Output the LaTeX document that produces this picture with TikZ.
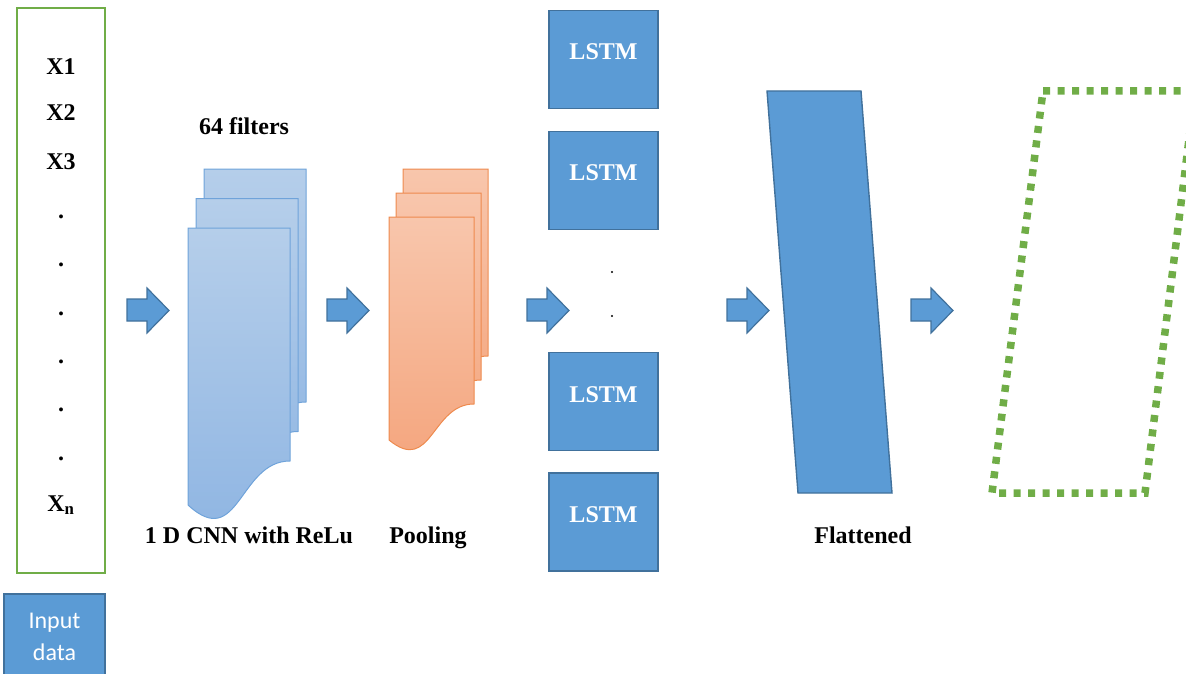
\documentclass[tikz,border=0pt]{standalone}
\usepackage{fontspec}
\setmainfont{Liberation Serif}
\newfontfamily\calfont{Carlito}
\definecolor{bfill}{HTML}{5B9BD5}
\definecolor{bline}{HTML}{41719C}
\definecolor{gline}{HTML}{70AD47}
\definecolor{cnntop}{HTML}{B5CEEA}
\definecolor{cnnbot}{HTML}{8DB4E2}
\definecolor{cnnline}{HTML}{6FA3DA}
\definecolor{pooltop}{HTML}{F8C6AC}
\definecolor{poolbot}{HTML}{F4A47C}
\definecolor{poolline}{HTML}{EE8A4E}
\begin{document}
\begin{tikzpicture}[x=1pt,y=-1pt,
  lbl/.style={font=\fontsize{24}{28}\selectfont\bfseries, inner sep=0pt, anchor=base},
  wlbl/.style={lbl, text=white},
  lstmbox/.style={draw=bline, fill=bfill, line width=1.6pt, minimum width=109pt, minimum height=98pt, inner sep=0pt},
  barrow/.style={draw=bline, fill=bfill, line width=1.2pt, line join=miter},
  cnnsheet/.style={draw=cnnline, line width=1pt, top color=cnntop, bottom color=cnnbot},
  poolsheet/.style={draw=poolline, line width=1pt, top color=pooltop, bottom color=poolbot},
  dotbox/.style={draw=gline, line width=7.5pt, dash pattern=on 7pt off 7.5pt, line cap=butt, line join=miter}
]
\useasboundingbox (0,0) rectangle (1186,674);

% input column
\node[draw=gline, line width=1.8pt, minimum width=88pt, minimum height=565pt, inner sep=0pt] (inbox) at (61,290.5) {};
\node[lbl] (x1) at (61,75) {X1};
\node[lbl] (x2) at (61,121) {X2};
\node[lbl] (x3) at (61,169) {X3};
\foreach \y/\n in {215/d1,263/d2,312/d3,360/d4,408/d5,457/d6}
  \node[lbl] (\n) at (61,\y+3) {.};
\node[lbl] (xn) at (61,511) {X\textsubscript{n}};

% input data box
\node[draw=bline, fill=bfill, line width=1.2pt, minimum width=101pt, minimum height=84pt, inner sep=0pt] (indata) at (54.5,636) {};
\node[font=\calfont\fontsize{24}{28}\selectfont, text=white, inner sep=0pt, anchor=base] (intxt1) at (54.5,628) {Input};
\node[font=\calfont\fontsize{24}{28}\selectfont, text=white, inner sep=0pt, anchor=base] (intxt2) at (54.5,660) {data};

% block arrows
\foreach \x in {127,327,527,727,911}
  \draw[barrow] (\x,299) -- (\x+20,299) -- (\x+20,288) -- (\x+42,310.5) -- (\x+20,333) -- (\x+20,321) -- (\x,321) -- cycle;

% CNN sheets
\foreach \sx/\sy in {204/169,196/198.5,188/228}
  \path[cnnsheet, shift={(\sx,\sy)}] (0,0) -- (102,0) -- (102,233) .. controls (51,233) and (51,324) .. (0,277) -- cycle;
\node[lbl] (filters) at (244,135) {64 filters};
\node[lbl] (cnnlbl) at (249,543) {1 D CNN with ReLu};

% pooling sheets
\foreach \sx/\sy in {403/169,396/193,389/217}
  \path[poolsheet, shift={(\sx,\sy)}] (0,0) -- (85,0) -- (85,187) .. controls (42.5,187) and (42.5,258) .. (0,223) -- cycle;
\node[lbl] (poollbl) at (428,543) {Pooling};

% LSTM boxes
\node[lstmbox] (l1) at (603.5,59.5) {};
\node[lstmbox] (l2) at (603.5,180.5) {};
\node[lstmbox] (l3) at (603.5,401.5) {};
\node[lstmbox] (l4) at (603.5,522) {};
\node[wlbl] (l1t) at (603.5,60) {LSTM};
\node[wlbl] (l2t) at (603.5,180) {LSTM};
\node[wlbl] (l3t) at (603.5,402) {LSTM};
\node[wlbl] (l4t) at (603.5,522) {LSTM};
\fill (612,272) circle (1.2pt);
\fill (612,316) circle (1.2pt);

% flattened
\draw[draw=bline, fill=bfill, line width=1.4pt] (767,91) -- (861,91) -- (892,493) -- (798,493) -- cycle;
\node[lbl] (flatlbl) at (863,543) {Flattened};

% output dotted parallelogram
\begin{scope}
\clip (0,0) rectangle (1186,674);
\draw[dotbox] (1043,91) -- (1195,91) -- (1145,493) -- (992,493) -- cycle;
\end{scope}
\end{tikzpicture}
\end{document}
